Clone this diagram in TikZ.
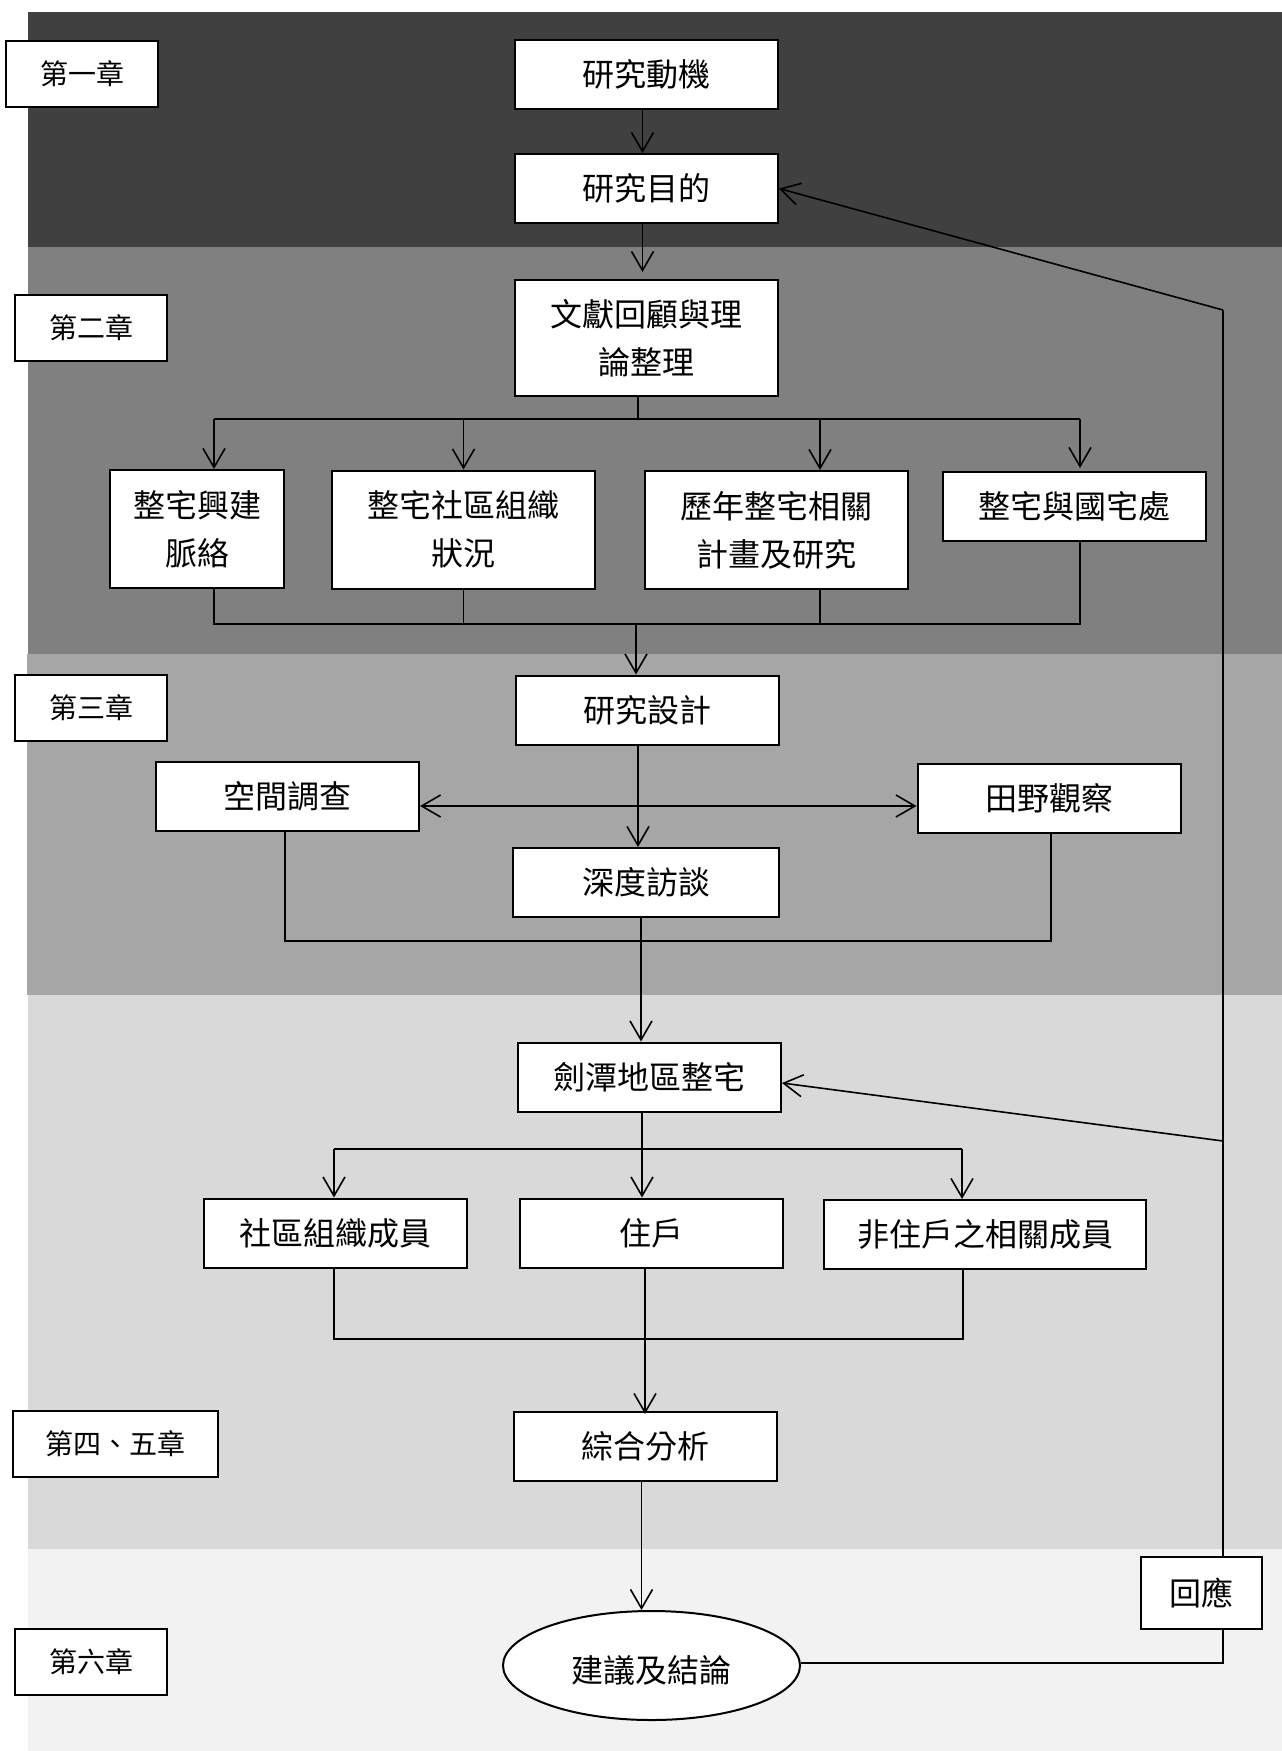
\documentclass[tikz,border=0pt]{standalone}
\usepackage{fontspec}
\setmainfont{Noto Sans CJK TC}
\usetikzlibrary{shapes.geometric,arrows.meta}

\begin{document}
\begin{tikzpicture}[
      x=1pt,y=-1pt,
      >={Straight Barb[length=19pt,width=22pt]},
      every path/.style = {line width=1.6pt},
      mynode/.style = {draw,fill=white,inner sep=0pt,align=center,line width=2pt,
        font=\fontsize{32}{48}\selectfont},
      mbox/.style = {mynode,rectangle,minimum width=263pt,minimum height=69pt},
      mchap/.style = {mynode,rectangle,minimum width=152pt,minimum height=66pt,
        font=\fontsize{28}{32}\selectfont},
      band/.style = {line width=0pt},
      exist/.style = {->},
      ]
      \useasboundingbox (0,0) rectangle (1282,1751);
      % bands of the chapters
      \fill[band,fill=black!75] (28,12) rectangle (1282,247);
      \fill[band,fill=black!50] (28,247) rectangle (1282,654);
      \fill[band,fill=black!35] (27,654) rectangle (1282,995);
      \fill[band,fill=black!15] (28,995) rectangle (1282,1549);
      \fill[band,fill=black!5] (28,1549) rectangle (1282,1751);
      % chapters
      \node[mchap] (chap1) at (82,74) {第一章};
      \node[mchap] (chap2) at (91,327.5) {第二章};
      \node[mchap] (chap3) at (91,708) {第三章};
      \node[mchap,minimum width=205pt] (chap45) at (115.5,1444) {第四、五章};
      \node[mchap] (chap6) at (91,1662) {第六章};
      % boxes
      \node[mbox] (mot) at (646.5,74) {研究動機};
      \node[mbox] (pur) at (646.5,188.5) {研究目的};
      \node[mbox,minimum height=116pt] (lit) at (646.5,338) {文獻回顧與理\\論整理};
      \node[mbox,minimum width=174pt,minimum height=118pt] (ctx) at (197,529) {整宅興建\\脈絡};
      \node[mbox,minimum height=118pt] (org) at (463.5,529.5) {整宅社區組織\\狀況};
      \node[mbox,minimum height=118pt] (hist) at (776,530) {歷年整宅相關\\計畫及研究};
      \node[mbox] (agency) at (1074.5,506.5) {整宅與國宅處};
      \node[mbox] (des) at (647,710) {研究設計};
      \node[mbox] (spat) at (287.5,796) {空間調查};
      \node[mbox] (field) at (1049,798.5) {田野觀察};
      \node[mbox,minimum width=266pt] (itv) at (646,882.5) {深度訪談};
      \node[mbox] (area) at (649.5,1077) {劍潭地區整宅};
      \node[mbox] (mem) at (335.5,1233) {社區組織成員};
      \node[mbox] (res) at (651.5,1233) {住戶};
      \node[mbox,minimum width=322pt] (nonres) at (985,1234.5) {非住戶之相關成員};
      \node[mbox] (syn) at (645.5,1446.5) {綜合分析};
      \node[mynode,ellipse,minimum width=297pt,minimum height=109pt,text height=38pt,text depth=4pt] (concl) at (651.5,1665.5) {建議及結論};
      \node[mbox,minimum width=121pt,minimum height=72pt] (resp) at (1201.5,1593) {回應};
      % junctions
      \coordinate (busA) at (638,419);
      \coordinate (busAl) at (214,419);
      \coordinate (busAr) at (1080,419);
      \coordinate (busAh) at (820,419);
      \coordinate (busB) at (636,624);
      \coordinate (busBl) at (214,624);
      \coordinate (busBr) at (1080,624);
      \coordinate (busBh) at (820,624);
      \coordinate (mid) at (638,806);
      \coordinate (busC) at (641,941);
      \coordinate (busCl) at (285,941);
      \coordinate (busCr) at (1051,941);
      \coordinate (busD) at (642,1149);
      \coordinate (busDl) at (334,1149);
      \coordinate (busDr) at (962,1149);
      \coordinate (busE) at (645,1339);
      \coordinate (busEl) at (334,1339);
      \coordinate (busEr) at (963,1339);
      \coordinate (fbTop) at (1223,310);
      \coordinate (fbMid) at (1223,1141);
      \coordinate (fbEnd) at (1223,1663);
      % first chapters
      \draw[exist] ([xshift=-4pt]mot.south) -- ([xshift=-4pt]pur.north);
      \draw[exist] ([xshift=-4pt]pur.south) -- ([xshift=-4pt,yshift=7pt]lit.north);
      \draw (lit.south -| busA) -- (busA);
      \draw (busAl) -- (busAr);
      \draw[exist] (busAl) -- (busAl |- ctx.north);
      \draw[exist] (busA -| org.north) -- (org.north);
      \draw[exist] (busAh) -- (busAh |- hist.north);
      \draw[exist] (busAr) -- ([yshift=3pt]busAr |- agency.north);
      \draw (busBl |- ctx.south) -- (busBl) -- (busBr) -- (busBr |- agency.south);
      \draw (org.south) -- (org.south |- busB);
      \draw (busBh |- hist.south) -- (busBh);
      \draw[exist] (busB) -- (busB |- des.north);
      % research design
      \draw[exist] (mid |- des.south) -- (mid |- itv.north);
      \draw[<->] (spat.east |- mid) -- (field.west |- mid);
      \draw (busCl |- spat.south) -- (busCl) -- (busCr) -- (busCr |- field.south);
      \draw[exist] (busC |- itv.south) -- (busC |- area.north);
      % area and its members
      \draw (busD |- area.south) -- (busD);
      \draw (busDl) -- (busDr);
      \draw[exist] (busDl) -- (busDl |- mem.north);
      \draw[exist] (busD) -- (busD |- res.north);
      \draw[exist] (busDr) -- (busDr |- nonres.north);
      \draw (busEl |- mem.south) -- (busEl) -- (busEr) -- (busEr |- nonres.south);
      \draw[exist] (busE |- res.south) -- ([yshift=-3pt]busE |- syn.north);
      \draw[exist] ([xshift=-4pt]syn.south) -- ([xshift=-4pt]syn.south |- concl.north);
      % feedback
      \draw (concl.east |- fbEnd) -- (fbEnd) -- (fbEnd |- resp.south);
      \draw (fbTop |- resp.north) -- (fbTop);
      \draw[exist] (fbTop) -- (pur.east);
      \draw[exist] (fbMid) -- ([yshift=-6pt]area.east);
    \end{tikzpicture}
\end{document}
